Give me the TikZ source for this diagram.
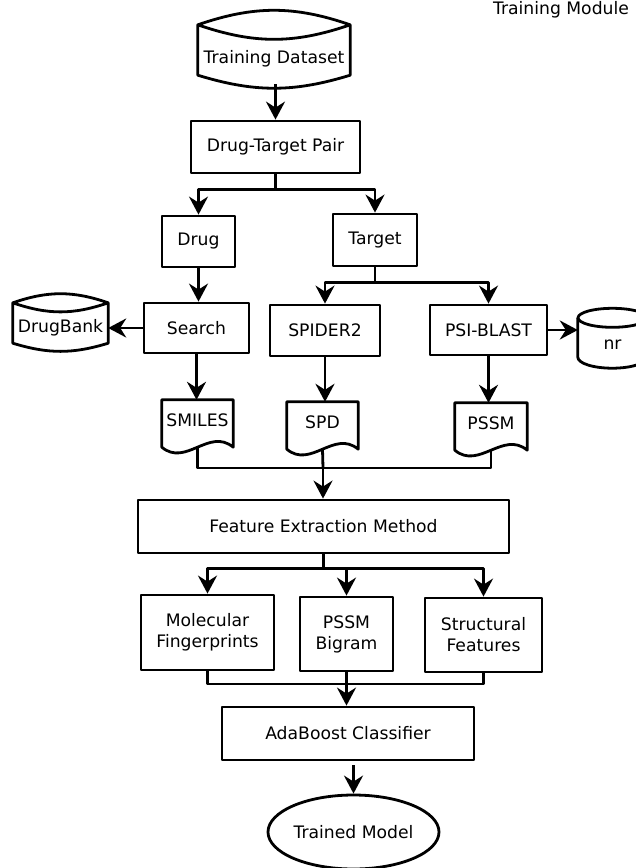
\documentclass[tikz,border=0pt]{standalone}
\usepackage{fontspec}
\setmainfont{DejaVu Sans}
\usetikzlibrary{arrows.meta,shapes.geometric}

% outlines drawn round plain nodes
\newcommand{\storeoutline}[1]{%
  \draw[frame] (#1.north west) to[out=19,in=161] (#1.north east)
    to[out=199,in=-19] (#1.north west) -- (#1.south west)
    to[out=-17,in=197] (#1.south east) -- (#1.north east);}
\newcommand{\docoutline}[1]{%
  \draw[frame] (#1.north west) -- (#1.north east) -- (#1.south east)
    .. controls +(-24,20) and +(24,-20) .. (#1.south west) -- cycle;}

\begin{document}
\begin{tikzpicture}[
  x=1pt, y=1pt,
  font=\fontsize{17.2}{21}\selectfont,
  frame/.style={line width=2.8pt, line join=round},
  box/.style={frame, draw, inner sep=0pt, align=center},
  store/.style={inner sep=0pt},
  doc/.style={inner sep=0pt, minimum width=71pt, text height=26pt, text depth=21pt},
  line/.style={frame, -{Stealth[length=18pt, width=19pt, inset=6pt]}}
]
\useasboundingbox (0,0) rectangle (635,-868);

\node[anchor=base] (title) at (561,-14) {Training Module};

\node[store, minimum width=152pt, text height=38pt, text depth=12pt] (data) at (274,-50) {Training Dataset};
\node[box, minimum width=169pt, minimum height=52pt] (pair) at (275.5,-147) {Drug-Target Pair};
\node[box, minimum width=73pt, minimum height=51pt] (drug) at (198.5,-241.5) {Drug};
\node[box, minimum width=84pt, minimum height=52pt] (target) at (375,-240) {Target};
\node[box, minimum width=105pt, minimum height=50pt] (search) at (196.5,-328) {Search};
\node[store, minimum width=95pt, text height=29pt, text depth=11pt] (bank) at (60.5,-323) {DrugBank};
\node[box, minimum width=110pt, minimum height=51pt] (spider) at (325,-330.5) {SPIDER2};
\node[box, minimum width=117pt, minimum height=50pt] (blast) at (488.5,-330) {PSI-BLAST};
\node[store, minimum width=69pt, text height=31.5pt, text depth=7.5pt] (nr) at (612.5,-337.5) {nr};
\node[doc] (smiles) at (197.5,-423.5) {SMILES};
\node[doc] (spd) at (322.5,-425.5) {SPD};
\node[doc, minimum width=72pt] (pssm) at (491,-426.5) {PSSM};
\node[box, minimum width=371pt, minimum height=53pt] (feat) at (323.5,-526.5) {Feature Extraction Method};
\node[box, minimum width=133pt, minimum height=75pt] (mol) at (207.5,-632.5) {Molecular\\Fingerprints};
\node[box, minimum width=93pt, minimum height=74pt] (bigram) at (346.5,-634) {PSSM\\Bigram};
\node[box, minimum width=117pt, minimum height=74pt] (struct) at (483.5,-635) {Structural\\Features};
\node[box, minimum width=252pt, minimum height=53pt] (ada) at (348,-733.5) {AdaBoost Classifier};
\node[box, ellipse, minimum width=171pt, minimum height=74pt] (model) at (353.5,-832) {Trained Model};

\storeoutline{data}
\storeoutline{bank}
\docoutline{smiles}
\docoutline{spd}
\docoutline{pssm}
\draw[frame] (nr.north) ellipse [x radius=34.5, y radius=9.5];
\draw[frame] (nr.north west) -- (nr.south west)
  arc[start angle=180, end angle=360, x radius=34.5, y radius=11] -- (nr.north east);

\coordinate (docs) at (323,-468);
\coordinate (feats) at (347,-684);

\draw[line, shorten <=9pt] (pair.north |- data.south) -- (pair.north);
\draw[line] (pair.south) -- ++(0,-15) -| (drug.north);
\draw[line] (pair.south) -- ++(0,-15) -| (target.north);
\draw[line] (drug.south) -- (drug.south |- search.north);
\draw[line] (target.south) -- ++(0,-15) -| (spider.north);
\draw[line] (target.south) -- ++(0,-15) -| (blast.north);
\draw[line] (search.west) -- (search.west -| bank.east);
\draw[line] (blast.east) -- (blast.east -| nr.west);
\draw[line] (search.south) -- (search.south |- smiles.north);
\draw[line] (spider.south) -- (spider.south |- spd.north);
\draw[line] (blast.south) -- (blast.south |- pssm.north);
\draw[frame] (smiles.south) |- (docs) -| (pssm.south);
\draw[frame] (spd.south) -- (docs);
\draw[line] (docs) -- (docs |- feat.north);
\draw[line] (feat.south) -- ++(0,-14) -| (mol.north);
\draw[line] (feat.south) -- ++(0,-14) -| (bigram.north);
\draw[line] (feat.south) -- ++(0,-14) -| (struct.north);
\draw[frame] (mol.south) |- (feats) -| (struct.south);
\draw[line] (bigram.south) -- (bigram.south |- ada.north);
\draw[line, shorten <=4pt] (model.north |- ada.south) -- (model.north);
\end{tikzpicture}
\end{document}
